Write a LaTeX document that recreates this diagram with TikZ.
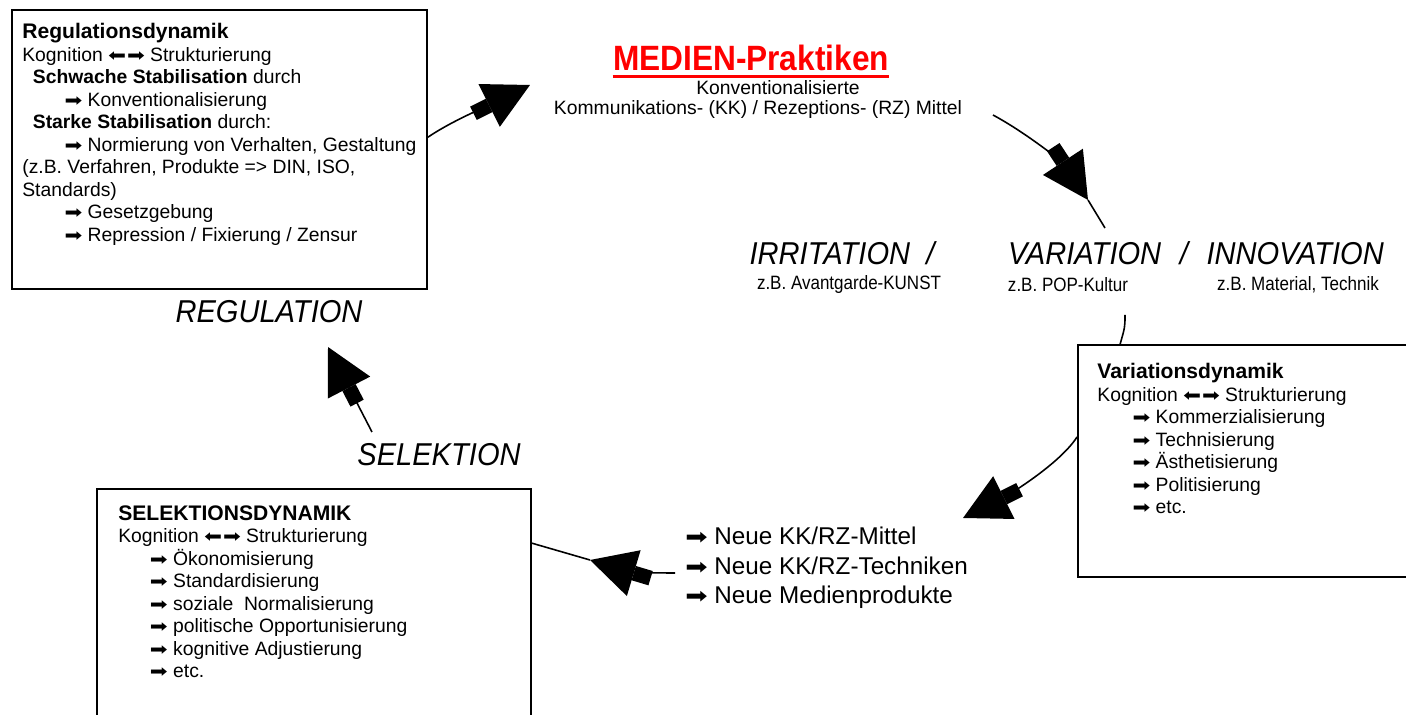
\documentclass[tikz,border=0pt]{standalone}
\usepackage{fontspec}
\usepackage{graphicx}
\setmainfont{Liberation Sans}
\newfontfamily\symfont{DejaVu Sans}
\newfontfamily\titlefont[FakeStretch=0.9]{Liberation Sans}
\newfontfamily\phasefont[FakeStretch=0.92]{Liberation Sans}
\newfontfamily\egfont[FakeStretch=0.88]{Liberation Sans}
\usetikzlibrary{arrows.meta}
\newcommand{\pf}{{\symfont\scalebox{1.1}[.9]{➡}}}
\newcommand{\lrpf}{{\symfont\scalebox{1.1}[.9]{\reflectbox{➡}}\kern.5pt\scalebox{1.1}[.9]{➡}}}
\begin{document}
\begin{tikzpicture}[x=.02cm,y=-.02cm,
 box/.style={draw,line width=1.1pt,inner sep=0pt},
 txt/.style={anchor=north west,inner sep=0pt,align=left,font=\fontsize{11}{12.8}\selectfont},
 phase/.style={inner sep=0pt,font=\phasefont\itshape\fontsize{18}{20}\selectfont},
 eg/.style={inner sep=0pt,font=\egfont\fontsize{11}{13}\selectfont},
 bigtip/.style={line width=.9pt,-{Rectangle[length=10pt,width=8.5pt,sep=0pt]Triangle[length=26pt,width=27pt]}}]
\useasboundingbox (0,0) rectangle (1406,715);
% boxes
\node[box,minimum width=8.3cm,minimum height=5.58cm] (reg) at (219.5,149.5) {};
\node[txt] (regtxt) at (22,23) {{\bfseries\fontsize{12}{13}\selectfont Regulationsdynamik}\\
 Kognition \lrpf{} Strukturierung\\
 \hspace*{6pt}\textbf{Schwache Stabilisation} durch\\
 \hspace*{24pt}\pf{} Konventionalisierung\\
 \hspace*{6pt}\textbf{Starke Stabilisation} durch:\\
 \hspace*{24pt}\pf{} Normierung von Verhalten, Gestaltung\\
 (z.B. Verfahren, Produkte => DIN, ISO,\\
 Standards)\\
 \hspace*{24pt}\pf{} Gesetzgebung\\
 \hspace*{24pt}\pf{} Repression / Fixierung / Zensur};
\node[box,minimum width=8cm,minimum height=4.64cm] (var) at (1278,461) {};
\node[txt] (vartxt) at (1097,363) {{\bfseries\fontsize{12}{13}\selectfont Variationsdynamik}\\
 Kognition \lrpf{} Strukturierung\\
 \hspace*{20pt}\pf{} Kommerzialisierung\\
 \hspace*{20pt}\pf{} Technisierung\\
 \hspace*{20pt}\pf{} Ästhetisierung\\
 \hspace*{20pt}\pf{} Politisierung\\
 \hspace*{20pt}\pf{} etc.};
\node[box,minimum width=8.68cm,minimum height=5.4cm] (sel) at (314,624) {};
\node[txt] (seltxt) at (118,505) {{\bfseries\fontsize{12}{13}\selectfont SELEKTIONSDYNAMIK}\\
 Kognition \lrpf{} Strukturierung\\
 \hspace*{18pt}\pf{} Ökonomisierung\\
 \hspace*{18pt}\pf{} Standardisierung\\
 \hspace*{18pt}\pf{} soziale~ Normalisierung\\
 \hspace*{18pt}\pf{} politische Opportunisierung\\
 \hspace*{18pt}\pf{} kognitive Adjustierung\\
 \hspace*{18pt}\pf{} etc.};
% medien
\node[inner sep=0pt,text=red,font=\titlefont\bfseries\fontsize{20}{24}\selectfont] (title) at (751,58) {MEDIEN-Praktiken};
\draw[red,line width=1.7pt] ([yshift=-3.4pt]title.base west) -- ([yshift=-3.4pt]title.base east);
\node[inner sep=0pt,font=\fontsize{11}{13}\selectfont] (konv) at (778,88) {Konventionalisierte};
\node[inner sep=0pt,font=\fontsize{11}{13}\selectfont] (mittel) at (758,110) {Kommunikations- (KK) / Rezeptions- (RZ) Mittel};
% phases
\node[phase] (irr) at (842,253) {IRRITATION~ /};
\node[phase] (innov) at (1196,253) {VARIATION\hspace{6pt} /\hspace{6pt} INNOVATION};
\node[phase] (regl) at (269,312) {REGULATION};
\node[phase] (sell) at (439,455) {SELEKTION};
\node[eg] (egkunst) at (849,285) {z.B. Avantgarde-KUNST};
\node[eg] (egpop) at (1068,285) {z.B. POP-Kultur};
\node[eg] (egtech) at (1298,285) {z.B. Material, Technik};
\node[anchor=west,inner sep=0pt,align=left,font=\fontsize{13.8}{16.8}\selectfont] (neu) at (685,568) {\pf{} Neue KK/RZ-Mittel\\ \pf{} Neue KK/RZ-Techniken\\ \pf{} Neue Medienprodukte};
% connectors
\coordinate (tipA) at (530,85);
\coordinate (medout) at (993,115);
\coordinate (tipB) at (1088,200);
\coordinate (innovin) at (1105,228);
\coordinate (innovout) at (1125,315);
\coordinate (tipD) at (963,518);
\coordinate (tipE) at (590,560);
\coordinate (selout) at (372,432);
\coordinate (tipF) at (328,347);
\draw[bigtip] ([yshift=7pt]reg.east) .. controls +(25,-17) and +(-40,20) .. (tipA);
\draw[bigtip] (medout) .. controls +(37,20) and +(-23,-35) .. (tipB);
\draw[line width=.9pt] (tipB) -- (innovin);
\draw[line width=.9pt] (innovout) .. controls +(0,12) .. ([xshift=24.5pt]var.north west);
\draw[bigtip] ([yshift=13.7pt]var.west) .. controls +(-18,28) and +(42,-21) .. (tipD);
\draw[bigtip] ([shift={(-10,5)}]neu.west) .. controls +(-25,0) and +(40,12) .. (tipE);
\draw[line width=.9pt] (tipE) -- ([yshift=46pt]sel.east);
\draw[bigtip] (selout) -- (tipF);
\end{tikzpicture}
\end{document}
